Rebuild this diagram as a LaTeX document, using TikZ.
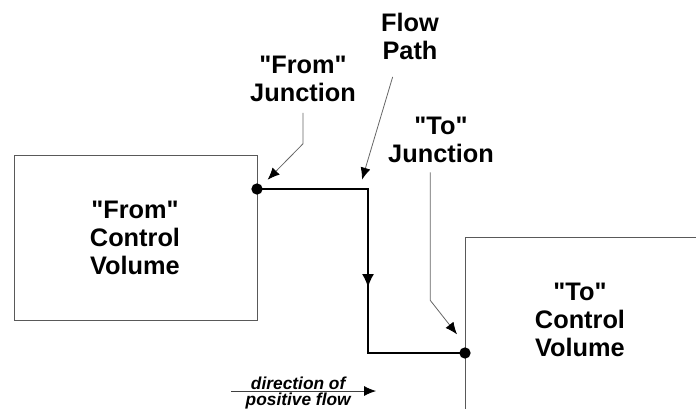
\documentclass[tikz,border=0pt]{standalone}
\usepackage{fontspec}
\setmainfont{Liberation Sans}
\usetikzlibrary{arrows.meta, positioning}
\tikzstyle{volume} = [rectangle, draw=black!65, line width=0.7pt, inner sep=0pt]
\tikzstyle{bigtext} = [font=\bfseries\fontsize{19}{21}\selectfont, align=center, inner sep=0pt]
\tikzstyle{smalltext} = [font=\bfseries\itshape\fontsize{13}{14}\selectfont, inner sep=1pt]
\tikzstyle{junction} = [circle, fill=black, inner sep=0pt, minimum size=8.5pt]
\tikzstyle{leader} = [draw=black!60, line width=0.6pt, -{Latex[length=9pt,width=7.5pt,color=black]}]
\tikzstyle{flow} = [line width=1.4pt, black]
\tikzstyle{flowtip} = [line width=1.4pt, black, -{Latex[length=10pt,width=9pt]}]
\newcommand{\qq}{\textquotedbl}

\begin{document}
\begin{tikzpicture}[x=0.75pt, y=-0.75pt]
		\clip (0,0) rectangle (696,408);
		
		\node (FromCV) [volume, minimum width=182pt, minimum height=124pt, anchor=north west] at (14,155) {};
		\node (FromText) [bigtext] at (135,238) {\qq From\qq\\Control\\Volume};
		\node (ToCV) [volume, minimum width=300pt, minimum height=200pt, anchor=north west] at (465,237) {};
		\node (ToText) [bigtext] at (580,320) {\qq To\qq\\Control\\Volume};
		
		\node (FromJ) [junction] at (257,189) {};
		\node (ToJ) [junction] at (465,353) {};
		\coordinate (Bend1) at (368,189);
		\coordinate (Bend2) at (368,353);
		\path (Bend1) -- (Bend2) coordinate[pos=0.6] (FlowTip);
		
		\draw [flow] (FromJ.center) -- (Bend1) -- (Bend2) -- (ToJ.center);
		\draw [flowtip] (Bend1) -- (FlowTip);
		
		\node (FromJLabel) [bigtext] at (303,79) {\qq From\qq\\Junction};
		\node (PathLabel) [bigtext] at (410,36) {Flow\\Path};
		\node (ToJLabel) [bigtext] at (441,140) {\qq To\qq\\Junction};
		
		\draw [leader] ([yshift=-8pt]FromJLabel.south) -- ++(0,31) -- ([xshift=8pt,yshift=7pt]FromJ.center);
		\draw [leader] ([xshift=-13pt,yshift=-13pt]PathLabel.south) -- ([xshift=-4.5pt,yshift=7pt]Bend1);
		\draw [leader] ([xshift=-8pt,yshift=-7pt]ToJLabel.south) -- ++(0,128) -- ([xshift=-6pt,yshift=14pt]ToJ.center);
		
		\coordinate (DirStart) at (231,391);
		\coordinate (DirEnd) at (376,391);
		\draw [leader, draw=black!75] (DirStart) -- node[smalltext, above, xshift=-4pt]{direction of} node[smalltext, below, xshift=-4pt]{positive flow} (DirEnd);
		
		\end{tikzpicture}
\end{document}
